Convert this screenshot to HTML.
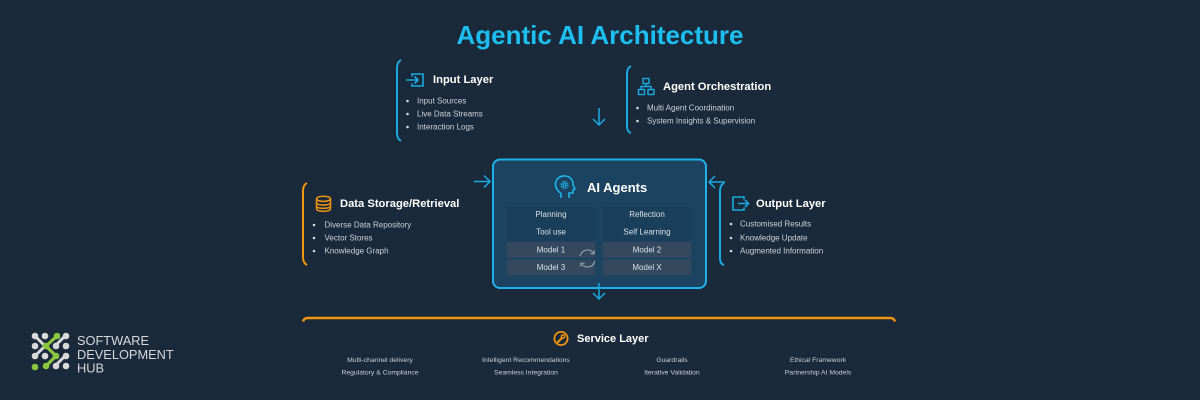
<!DOCTYPE html>
<html><head><meta charset="utf-8"><style>
html,body{margin:0;padding:0;background:#1b2a3b;}
svg{display:block;}
text{font-family:"Liberation Sans",Arial,sans-serif;}
</style></head><body>
<svg width="1200" height="400" viewBox="0 0 1200 400" xmlns="http://www.w3.org/2000/svg">
<rect width="1200" height="400" fill="#1b2a3b"/>

<!-- Title -->
<text x="600" y="35" text-anchor="middle" dominant-baseline="central" font-size="26" font-weight="bold" fill="#1cbff0">Agentic AI Architecture</text>

<!-- Input Layer -->
<path d="M401 60 Q397 62 397 68 L397 133 Q397 139 401 141" fill="none" stroke="#1aa9e0" stroke-width="2"/>
<g fill="none" stroke="#1aa9e0" stroke-width="1.6">
<path d="M412 76.5 V74 H423 V86 H412 V83.5"/>
<path d="M406 80 H418 M414.5 76.5 L418 80 L414.5 83.5"/>
</g>
<text x="433" y="80" dominant-baseline="central" font-size="11.2" font-weight="bold" fill="#ffffff">Input Layer</text>
<g fill="#d0d8e0"><circle cx="407.5" cy="101" r="1.3"/><circle cx="407.5" cy="114" r="1.3"/><circle cx="407.5" cy="127" r="1.3"/></g>
<g font-size="8" fill="#c9d3dc" dominant-baseline="central">
<text x="417" y="101">Input Sources</text>
<text x="417" y="114">Live Data Streams</text>
<text x="417" y="127">Interaction Logs</text>
</g>

<!-- top down arrow -->
<g fill="none" stroke="#1aa9e0" stroke-width="1.5">
<path d="M599 108 V125 M593 119 L599 125 L605 119"/>
</g>

<!-- Agent Orchestration -->
<path d="M631 66 Q627 68 627 74 L627 126 Q627 132 631 133" fill="none" stroke="#1aa9e0" stroke-width="2"/>
<g fill="none" stroke="#1aa9e0" stroke-width="1.4">
<rect x="643" y="78.5" width="6" height="5"/>
<path d="M646 83.5 V86.5 M641 89.5 V86.5 H651 V89.5"/>
<rect x="638.5" y="89.5" width="6" height="5"/>
<rect x="648" y="89.5" width="6" height="5"/>
</g>
<text x="663" y="87" dominant-baseline="central" font-size="11.2" font-weight="bold" fill="#ffffff">Agent Orchestration</text>
<g fill="#d0d8e0"><circle cx="637.5" cy="108" r="1.3"/><circle cx="637.5" cy="121" r="1.3"/></g>
<g font-size="8" fill="#c9d3dc" dominant-baseline="central">
<text x="647" y="108">Multi Agent Coordination</text>
<text x="647" y="121">System Insights &amp; Supervision</text>
</g>

<!-- Data Storage -->
<path d="M307 183 Q303 185 303 191 L303 257 Q303 263 307 265" fill="none" stroke="#f0950f" stroke-width="2"/>
<g fill="none" stroke="#f0950f" stroke-width="1.5">
<ellipse cx="323.5" cy="198.8" rx="7" ry="2.6"/>
<path d="M316.5 198.8 V208.5 Q316.5 211.2 323.5 211.2 Q330.5 211.2 330.5 208.5 V198.8"/>
<path d="M316.5 202.5 Q316.5 205 323.5 205 Q330.5 205 330.5 202.5"/>
<path d="M316.5 206 Q316.5 208.3 323.5 208.3 Q330.5 208.3 330.5 206"/>
</g>
<text x="340" y="204" dominant-baseline="central" font-size="11.2" font-weight="bold" fill="#ffffff">Data Storage/Retrieval</text>
<g fill="#d0d8e0"><circle cx="314" cy="225" r="1.3"/><circle cx="314" cy="238" r="1.3"/><circle cx="314" cy="251" r="1.3"/></g>
<g font-size="8" fill="#c9d3dc" dominant-baseline="central">
<text x="324.5" y="225">Diverse Data Repository</text>
<text x="324.5" y="238">Vector Stores</text>
<text x="324.5" y="251">Knowledge Graph</text>
</g>

<!-- arrows into AI box -->
<g fill="none" stroke="#1aa9e0" stroke-width="1.5">
<path d="M474 181.5 H490 M484 175.5 L490 181.5 L484 187.5"/>
<path d="M725 182 H709 M715 176 L709 182 L715 188"/>
</g>

<!-- AI Agents box -->
<rect x="493" y="159.5" width="213" height="128.5" rx="7" fill="#1c4461" stroke="#1fb2ea" stroke-width="2"/>
<g fill="none" stroke="#1fb2ea" stroke-width="1.6">
<path d="M561 198 V193.5 C557 190.5 555 187 555.5 183 C556.5 178 561 175.5 565.5 176 C570.5 176.5 573.5 180.5 573 185 L575 189 L573 189.8 V193 H569 V198"/>
<circle cx="564.5" cy="185" r="3.2" stroke-width="1.8" stroke-dasharray="1.4 1.1"/>
<circle cx="564.5" cy="185" r="1.4" stroke-width="1"/>
</g>
<text x="587" y="187.5" dominant-baseline="central" font-size="13" font-weight="bold" fill="#ffffff">AI Agents</text>

<g>
<rect x="507" y="207" width="88" height="17" fill="#1a3f5a"/>
<rect x="507" y="224" width="88" height="17" fill="#1a3f5a"/>
<rect x="603" y="207" width="88" height="17" fill="#1a3f5a"/>
<rect x="603" y="224" width="88" height="17" fill="#1a3f5a"/>
<rect x="507" y="242" width="88" height="15.5" fill="#34495d"/>
<rect x="507" y="260" width="88" height="15" fill="#34495d"/>
<rect x="603" y="242" width="88" height="15.5" fill="#34495d"/>
<rect x="603" y="260" width="88" height="15" fill="#34495d"/>
</g>
<g font-size="8" fill="#d8e0e8" text-anchor="middle" dominant-baseline="central">
<text x="551" y="214.5">Planning</text>
<text x="647" y="214.5">Reflection</text>
<text x="551" y="232">Tool use</text>
<text x="647" y="232">Self Learning</text>
<text x="551" y="250">Model 1</text>
<text x="647" y="250">Model 2</text>
<text x="551" y="267.5">Model 3</text>
<text x="647" y="267.5">Model X</text>
</g>
<!-- refresh icon -->
<g fill="none" stroke="#8796a5" stroke-width="1.3">
<path d="M580 256 Q582 250 587.5 250 Q592 250 594 254"/>
<path d="M594 254 L594.5 250.5 M594 254 L590.5 253.5"/>
<path d="M595 261 Q593 267 587.5 267 Q583 267 581 263"/>
<path d="M581 263 L580.5 266.5 M581 263 L584.5 263.5"/>
</g>

<!-- bottom arrow -->
<g fill="none" stroke="#1aa9e0" stroke-width="1.5">
<path d="M599 283 V299 M593 293 L599 299 L605 293"/>
</g>

<!-- Output Layer -->
<path d="M724 183 Q720 185 720 191 L720 258 Q720 264 724 265" fill="none" stroke="#1aa9e0" stroke-width="2"/>
<g fill="none" stroke="#1aa9e0" stroke-width="1.6">
<path d="M744 199.5 V197 H733 V210 H744 V207.5"/>
<path d="M738 203.5 H748 M745 200 L748.5 203.5 L745 207"/>
</g>
<text x="756" y="204" dominant-baseline="central" font-size="11.2" font-weight="bold" fill="#ffffff">Output Layer</text>
<g fill="#d0d8e0"><circle cx="731" cy="224" r="1.3"/><circle cx="731" cy="238" r="1.3"/><circle cx="731" cy="251" r="1.3"/></g>
<g font-size="8" fill="#c9d3dc" dominant-baseline="central">
<text x="740" y="224">Customised Results</text>
<text x="740" y="238">Knowledge Update</text>
<text x="740" y="251">Augmented Information</text>
</g>

<!-- Service Layer -->
<path d="M303 321.5 Q304 318 308 318 L890 318 Q894 318 895 321.5" fill="none" stroke="#f0950f" stroke-width="2.5"/>
<circle cx="561" cy="338.5" r="6.6" fill="none" stroke="#f0950f" stroke-width="1.8"/>
<g stroke="#f0950f" fill="none" stroke-linecap="round">
<path d="M558 342 L562 338" stroke-width="2.2"/>
<circle cx="563" cy="336.5" r="1.7" stroke-width="1.4"/>
</g>
<text x="577" y="339" dominant-baseline="central" font-size="11" font-weight="bold" fill="#ffffff">Service Layer</text>
<g font-size="6.8" fill="#c8d0da" text-anchor="middle" dominant-baseline="central">
<text x="380" y="360.5">Multi-channel delivery</text>
<text x="380" y="373">Regulatory &amp; Compliance</text>
<text x="526" y="360.5">Intelligent Recommendations</text>
<text x="526" y="373">Seamless Integration</text>
<text x="672" y="360.5">Guardrails</text>
<text x="672" y="373">Iterative Validation</text>
<text x="818" y="360.5">Ethical Framework</text>
<text x="818" y="373">Partnership AI Models</text>
</g>

<!-- Logo -->
<g stroke-linecap="round">
<g stroke="#d9d9d9" stroke-width="3">
<path d="M35 336 L45 346"/>
<path d="M35 356 L45 346"/>
<path d="M55 366 L65 356"/>
<path d="M65 336 L55 346"/>
</g>
<g stroke="#8cc63f" stroke-width="3.2" fill="none">
<path d="M57 336 L46 346 L56 356 L46 366"/>
</g>
<g fill="#d9d9d9">
<circle cx="35" cy="336" r="3.3"/><circle cx="45" cy="336" r="3.3"/><circle cx="66" cy="336" r="3.3"/>
<circle cx="35" cy="346" r="3.3"/><circle cx="56" cy="346" r="3.3"/><circle cx="66" cy="346" r="3.3"/>
<circle cx="35" cy="356" r="3.3"/><circle cx="45" cy="356" r="3.3"/><circle cx="66" cy="356" r="3.3"/>
<circle cx="56" cy="366" r="3.3"/><circle cx="66" cy="366" r="3.3"/>
</g>
<g fill="#8cc63f">
<circle cx="57" cy="336" r="3.3"/><circle cx="46" cy="346" r="3.3"/><circle cx="56" cy="356" r="3.3"/>
<circle cx="46" cy="366" r="3.3"/><circle cx="35" cy="367" r="3.3"/>
</g>
</g>
<g font-size="12.8" fill="#d5d8db" dominant-baseline="central">
<text x="77" y="340.5">SOFTWARE</text>
<text x="77" y="354.5">DEVELOPMENT</text>
<text x="77" y="368">HUB</text>
</g>
</svg>
</body></html>
